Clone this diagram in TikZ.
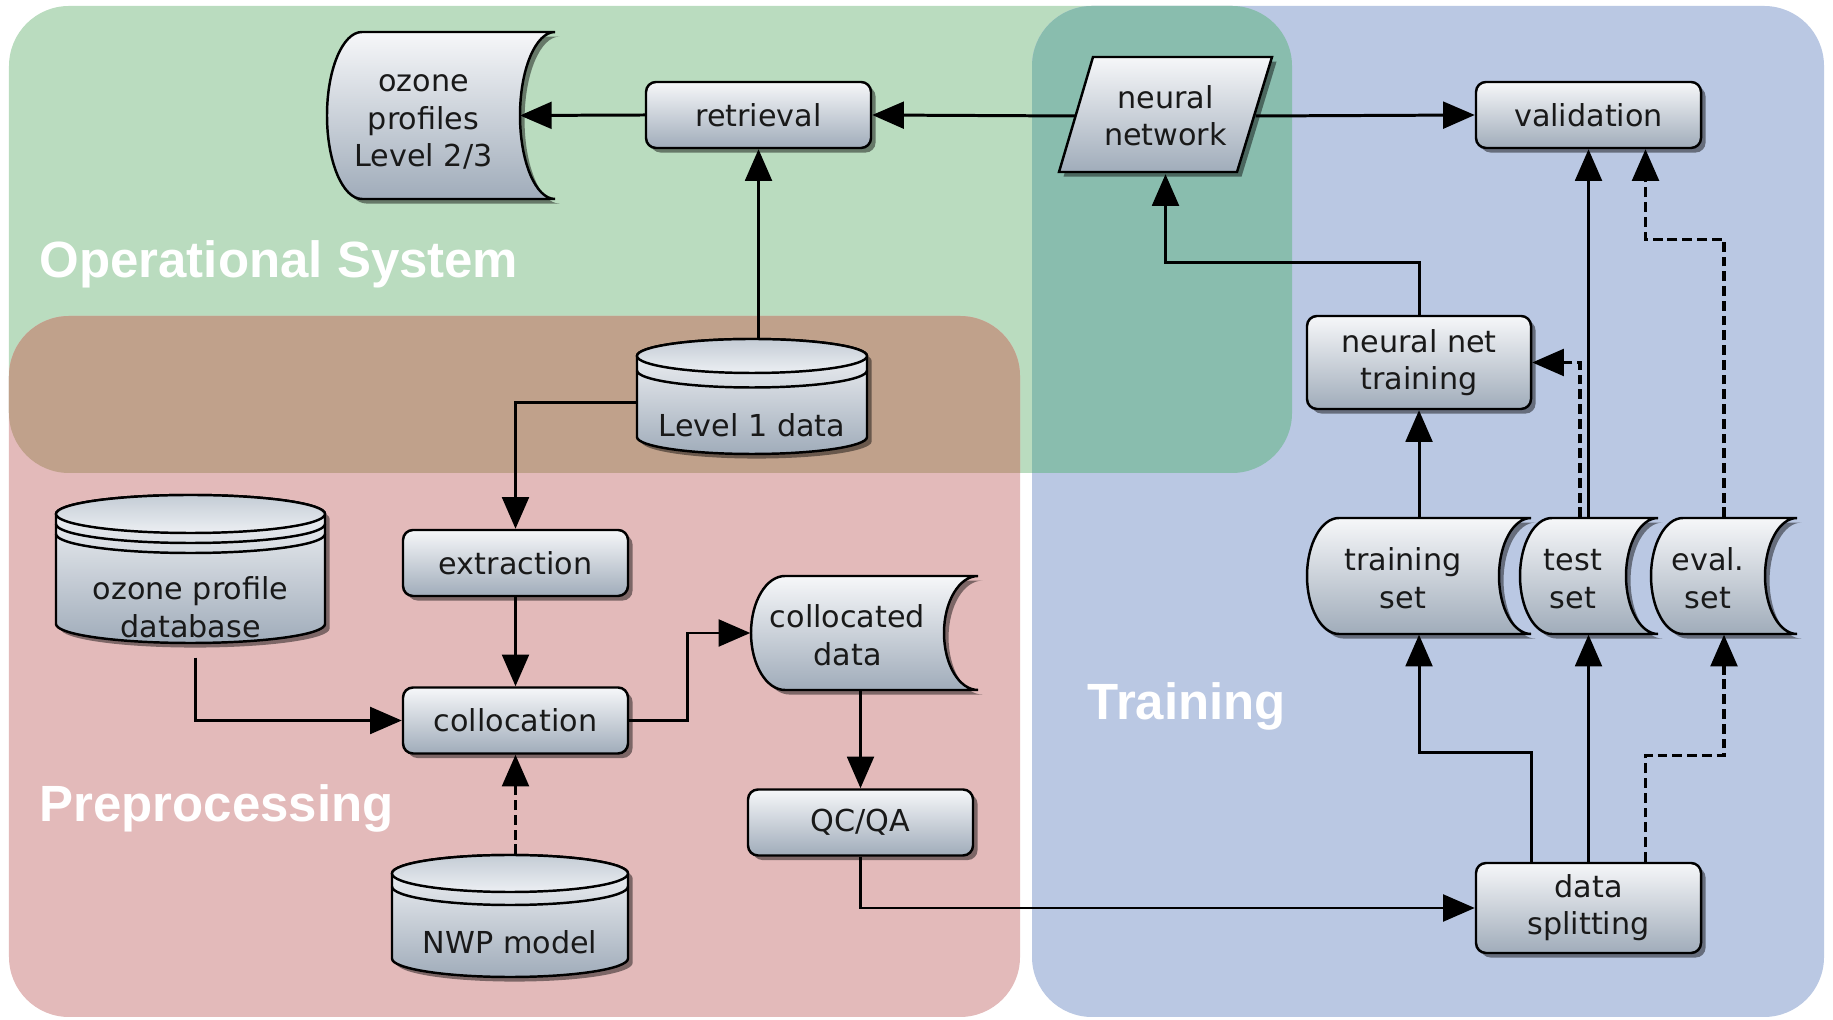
\documentclass[tikz,border=0pt]{standalone}
\usepackage{fontspec}
\setmainfont{DejaVu Sans}
\newfontfamily\headfont{Liberation Sans}
\usetikzlibrary{arrows.meta,shadows}

\definecolor{opgreen}{RGB}{186,220,191}
\definecolor{prered}{RGB}{227,186,186}
\definecolor{trblue}{RGB}{186,200,227}
\definecolor{opbrown}{RGB}{192,161,139}
\definecolor{opteal}{RGB}{137,189,174}
\definecolor{boxtop}{RGB}{246,247,249}
\definecolor{boxbot}{RGB}{160,172,186}
\definecolor{lidtop}{RGB}{196,204,213}
\definecolor{lidbot}{RGB}{236,239,243}
\definecolor{txtcol}{RGB}{25,25,25}

% stored data: name, centre, half width, half height, bulge, text
\newcommand{\tapeshape}[6]{%
  \begin{scope}[shift={(#2)}]
    \shade[boxfill] ({-#3+#5},#4) -- (#3,#4)
      arc[start angle=90, end angle=270, x radius=#5, y radius=#4]
      -- ({-#3+#5},-#4)
      arc[start angle=270, end angle=90, x radius=#5, y radius=#4] -- cycle;
    \coordinate (#1-in) at ({#3-#5},0);
    \node[txt, minimum width={2*#3cm}, minimum height={2*#4cm}] (#1) at (0,0)
      {\hspace*{-#5cm}\raisebox{-0.14cm}[0pt][0pt]{\begin{tabular}{@{}c@{}}#6\end{tabular}}};
  \end{scope}}

% database: name, centre, half width, half height, lid radius, rims, rim gap, text drop, text
\newcommand{\dbshape}[9]{%
  \begin{scope}[shift={(#2)}]
    \shade[boxfill] (-#3,{#4-#5}) -- (-#3,{-#4+#5})
      arc[start angle=180, end angle=360, x radius=#3, y radius=#5]
      -- (#3,{#4-#5})
      arc[start angle=0, end angle=180, x radius=#3, y radius=#5] -- cycle;
    \shade[lidfill] (0,{#4-#5}) ellipse[x radius=#3, y radius=#5];
    \foreach \k in {1,...,#6}
      \draw[rim] (-#3,{#4-#5-\k*#7}) arc[start angle=180, end angle=360, x radius=#3, y radius=#5];
    \node[txt, minimum width={2*#3cm}, minimum height={2*#4cm}] (#1) at (0,0)
      {\raisebox{-#8cm}[0pt][0pt]{\begin{tabular}{@{}c@{}}#9\end{tabular}}};
  \end{scope}}

\begin{document}
\begin{tikzpicture}[font=\fontsize{8.6}{10.6}\selectfont,
    boxfill/.style={draw=black, line width=0.7pt, top color=boxtop, bottom color=boxbot,
      drop shadow={shadow xshift=1.3pt, shadow yshift=-1.3pt, opacity=0.45, fill=black}},
    lidfill/.style={draw=black, line width=0.7pt, top color=lidtop, bottom color=lidbot},
    rim/.style={draw=black, line width=0.7pt},
    txt/.style={inner sep=0pt, text=txtcol},
    proc/.style={boxfill, txt, rectangle, rounded corners=0.1cm, align=center,
      minimum width=2.25cm, minimum height=0.66cm},
    head/.style={inner sep=0pt, text=white, font=\headfont\bfseries\fontsize{14.5}{17}\selectfont},
    flow/.style={line width=0.85pt, -{Triangle[length=9pt,width=7.6pt]}},
    flowd/.style={flow, line width=0.9pt, dash pattern=on 2.8pt off 1.4pt}]

    \useasboundingbox (0,0) rectangle (18.33,-10.20);

    % 1. Regions (overlaps drawn through a clip)
    \fill[opgreen, rounded corners=0.6cm] (0.09,-0.06) rectangle (12.92,-4.73);
    \fill[prered, rounded corners=0.6cm] (0.09,-3.16) rectangle (10.20,-10.17);
    \fill[trblue, rounded corners=0.6cm] (10.32,-0.06) rectangle (18.24,-10.17);
    \begin{scope}
        \clip[rounded corners=0.6cm] (0.09,-0.06) rectangle (12.92,-4.73);
        \fill[opbrown, rounded corners=0.6cm] (0.09,-3.16) rectangle (10.20,-10.17);
        \fill[opteal, rounded corners=0.6cm] (10.32,-0.06) rectangle (18.24,-10.17);
    \end{scope}

    % 2. Region titles
    \node[head, anchor=base west] (tops) at (0.39,-2.78) {Operational System};
    \node[head, anchor=base west] (tpre) at (0.39,-8.22) {Preprocessing};
    \node[head, anchor=base west] (ttrn) at (10.87,-7.20) {Training};

    % 3. Operational system
    \tapeshape{ozp}{4.41,-1.155}{1.14}{0.835}{0.35}{ozone\\profiles\\Level 2/3}
    \node[proc] (retr) at (7.585,-1.15) {retrieval};
    \shade[boxfill] (10.93,-0.57) -- (12.72,-0.57) -- (12.37,-1.72) -- (10.59,-1.72) -- cycle;
    \node[txt, align=center, minimum width=1.79cm, minimum height=1.15cm] (nn) at (11.655,-1.16) {neural\\network};
    \node[proc] (valid) at (15.885,-1.15) {validation};
    \dbshape{lvl1}{7.52,-3.965}{1.15}{0.575}{0.17}{1}{0.145}{0.40}{Level 1 data}

    % 4. Preprocessing
    \dbshape{ozdb}{1.905,-5.69}{1.345}{0.74}{0.19}{2}{0.10}{0.50}{ozone profile\\database}
    \node[proc] (extr) at (5.155,-5.63) {extraction};
    \node[proc] (colloc) at (5.155,-7.205) {collocation};
    \dbshape{nwp}{5.10,-9.16}{1.18}{0.61}{0.185}{1}{0.13}{0.38}{NWP model}
    \tapeshape{cold}{8.645,-6.33}{1.135}{0.57}{0.34}{collocated\\data}
    \node[proc] (qcqa) at (8.605,-8.225) {QC/QA};

    % 5. Training
    \node[proc, minimum width=2.24cm, minimum height=0.93cm] (nntrain) at (14.19,-3.625) {neural net\\training};
    \tapeshape{trset}{14.19,-5.76}{1.12}{0.58}{0.32}{training\\set}
    \tapeshape{teset}{15.89,-5.76}{0.69}{0.58}{0.32}{test\\set}
    \tapeshape{evset}{17.24,-5.76}{0.73}{0.58}{0.32}{eval.\\set}
    \node[proc, minimum height=0.90cm] (split) at (15.885,-9.08) {data\\splitting};

    % 6. Connectors
    \draw[flow] (retr.west) -- (ozp-in);
    \draw[flow] (nn.west) -- (retr.east);
    \draw[flow] (nn.east) -- (valid.west);
    \draw[flow] (retr.south |- lvl1.north) -- (retr.south);
    \draw[flow] ([yshift=-0.06cm]lvl1.west) -| (extr.north);
    \draw[flow] (extr.south) -- (colloc.north);
    \draw[flow, shorten <=0.14cm] ([xshift=0.05cm]ozdb.south) |- (colloc.west);
    \draw[flowd] (colloc.south |- nwp.north) -- (colloc.south);
    \draw[flow] (colloc.east) -- ++(0.58,0) |- (cold.west);
    \draw[flow] (qcqa.north |- cold.south) -- (qcqa.north);
    \draw[flow] (qcqa.south) |- (split.west);
    \draw[flow] ([xshift=-0.57cm]split.north) -- ++(0,1.09) -| (trset.south);
    \draw[flow] (split.north) -- (split.north |- teset.south);
    \draw[flowd] ([xshift=0.57cm]split.north) -- ++(0,1.06) -| (evset.south);
    \draw[flow] (trset.north) -- (nntrain.south);
    \draw[flow] (nntrain.north) -- ++(0,0.52) -| (nn.south);
    \draw[flow] (valid.south |- teset.north) -- (valid.south);
    \draw[flowd] ([xshift=-0.09cm]teset.north) |- (nntrain.east);
    \draw[flowd] (evset.north) -- ++(0,2.78) -| ([xshift=0.57cm]valid.south);

\end{tikzpicture}
\end{document}
